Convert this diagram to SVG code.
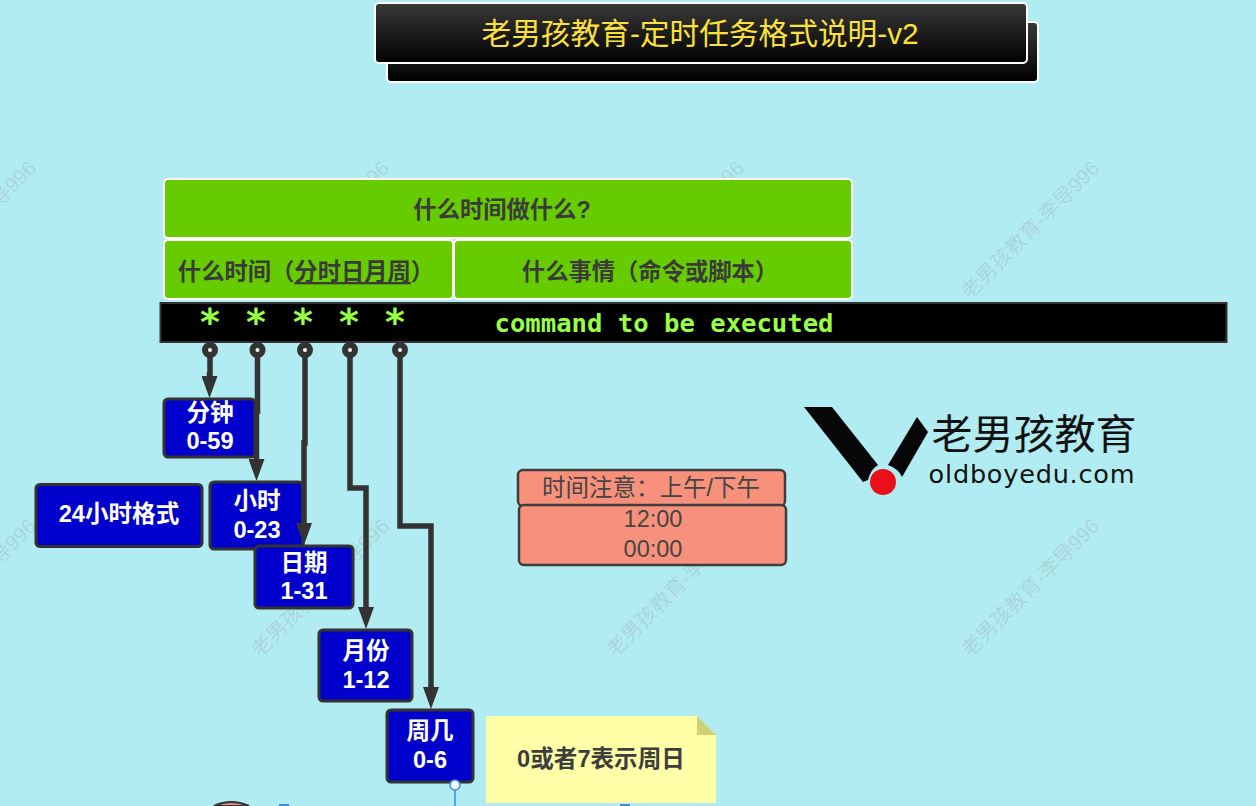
<svg xmlns="http://www.w3.org/2000/svg" width="1256" height="806" viewBox="0 0 1256 806">
<style>
text{font-family:"Liberation Sans","Noto Sans CJK SC",sans-serif;text-anchor:middle}
.wm{font-size:20.500px;fill:#9fb8bc;fill-opacity:.45;text-anchor:start}
.h{fill:#6c0;stroke:#fff;stroke-width:2}
.ht{font-size:23.300px;font-weight:700;fill:#3a3a3a}
.b{fill:#00c;stroke:#333;stroke-width:3}
.bt{font-size:23.600px;font-weight:700;fill:#fff}
.s{fill:#f8917b;stroke:#3d3d3d;stroke-width:2.500}
.st{font-size:23.500px;fill:#444}
.c{fill:none;stroke:#333;stroke-width:5.500}
.dot{fill:#fff;stroke:#333;stroke-width:6}
.mono{font-family:"DejaVu Sans Mono","Liberation Mono",monospace;font-weight:700;fill:#9f4}
</style>
<defs>
<linearGradient id="bk" x1="0" y1="0" x2="0" y2="1"><stop offset="0" stop-color="#3a3a3a"/><stop offset="1" stop-color="#000"/></linearGradient>
<marker id="ah" markerUnits="userSpaceOnUse" markerWidth="22" markerHeight="16" refX="14" refY="8" orient="auto" viewBox="0 0 22 16"><path d="M0 0L22 8L0 16Z" fill="#333"/></marker>
</defs>
<rect width="1256" height="806" fill="#b2ecf3"/>
<g id="watermarks">
<text class="wm" transform="translate(-93 300) rotate(-45)">老男孩教育-李导996</text>
<text class="wm" transform="translate(260 300) rotate(-45)">老男孩教育-李导996</text>
<text class="wm" transform="translate(615 300) rotate(-45)">老男孩教育-李导996</text>
<text class="wm" transform="translate(970 300) rotate(-45)">老男孩教育-李导996</text>
<text class="wm" transform="translate(-93 658) rotate(-45)">老男孩教育-李导996</text>
<text class="wm" transform="translate(260 658) rotate(-45)">老男孩教育-李导996</text>
<text class="wm" transform="translate(615 658) rotate(-45)">老男孩教育-李导996</text>
<text class="wm" transform="translate(970 658) rotate(-45)">老男孩教育-李导996</text>
</g>
<g id="title">
<rect x="387" y="22" width="651" height="60" rx="4" fill="url(#bk)" stroke="#fff" stroke-width="2"/>
<rect x="375" y="3" width="652" height="60" rx="4" fill="url(#bk)" stroke="#fff" stroke-width="2"/>
<text x="700" y="44" font-size="29.700" fill="#fde13a">老男孩教育-定时任务格式说明-v2</text>
</g>
<g id="header-top"><rect class="h" x="164" y="179" width="688" height="59" rx="4"/><text class="ht" x="502" y="218">什么时间做什么?</text></g>
<g id="header-when"><rect class="h" x="164" y="240" width="289" height="59" rx="4"/><text class="ht" x="306" y="280">什么时间（<tspan text-decoration="underline">分时日月周</tspan>）</text></g>
<g id="header-what"><rect class="h" x="454" y="240" width="398" height="59" rx="4"/><text class="ht" x="650" y="280">什么事情（命令或脚本）</text></g>
<g id="cmd-bar">
<rect x="160.500" y="303" width="1066" height="39" fill="#000" stroke="#333" stroke-width="2"/>
<text class="mono" x="210" y="335" font-size="38">*</text><text class="mono" x="256" y="335" font-size="38">*</text><text class="mono" x="303" y="335" font-size="38">*</text><text class="mono" x="349" y="335" font-size="38">*</text><text class="mono" x="395" y="335" font-size="38">*</text>
<text class="mono" x="664" y="332" font-size="25.600">command to be executed</text>
</g>
<g id="min"><rect class="b" x="164" y="399" width="91" height="58" rx="4"/><text class="bt" x="210" y="421">分钟</text><text class="bt" x="210" y="449">0-59</text></g>
<g id="fmt24"><rect class="b" x="36" y="484.500" width="166" height="62" rx="4"/><text class="bt" x="119" y="522">24小时格式</text></g>
<g id="hour"><rect class="b" x="210" y="482" width="93" height="67" rx="4"/><text class="bt" x="257" y="509">小时</text><text class="bt" x="257" y="538">0-23</text></g>
<g id="day"><rect class="b" x="255" y="546" width="98" height="62" rx="4"/><text class="bt" x="304" y="571">日期</text><text class="bt" x="304" y="599">1-31</text></g>
<g id="month"><rect class="b" x="319" y="630" width="93" height="71" rx="4"/><text class="bt" x="366" y="659">月份</text><text class="bt" x="366" y="688">1-12</text></g>
<g id="week"><rect class="b" x="387" y="710" width="86" height="72" rx="4"/><text class="bt" x="430" y="739">周几</text><text class="bt" x="430" y="768">0-6</text></g>
<g id="connectors">
<path class="c" marker-end="url(#ah)" d="M210 350V375H209.500V390"/>
<path class="c" marker-end="url(#ah)" d="M257.500 350V411H256.500V473"/>
<path class="c" marker-end="url(#ah)" d="M305 350V443H304V537"/>
<path class="c" marker-end="url(#ah)" d="M350 350V488H366V621"/>
<path class="c" marker-end="url(#ah)" d="M400 350V526H431V701"/>
<circle class="dot" cx="210" cy="350" r="5"/><circle class="dot" cx="257.500" cy="350" r="5"/><circle class="dot" cx="305" cy="350" r="5"/><circle class="dot" cx="350" cy="350" r="5"/><circle class="dot" cx="400" cy="350" r="5"/>
</g>
<g id="selection"><path d="M455 790V806" stroke="#2f8ff0" stroke-width="1.500"/><circle cx="455" cy="785" r="5" fill="#fff" stroke="#2f8ff0" stroke-width="1.500"/></g>
<g id="note">
<path d="M486 716H697L716 735V803H486Z" fill="#ffffa8"/><path d="M697 716L716 735H697Z" fill="#cfcf75"/>
<text x="601" y="767" font-size="23.600" font-weight="700" fill="#3d3d3d">0或者7表示周日</text>
</g>
<g id="time-note">
<rect class="s" x="518" y="470" width="267" height="36" rx="5"/><text class="st" x="651" y="496">时间注意：上午/下午</text>
<rect class="s" x="519" y="505" width="267" height="60" rx="5"/><text class="st" x="653" y="527">12:00</text><text class="st" x="653" y="557">00:00</text>
</g>
<g id="logo">
<path d="M804 407H832L878 465Q870 470 868 480L863 482Z" fill="#070707"/>
<path d="M917 417L928 432L902 477Q899 469 888 465Z" fill="#070707"/>
<circle cx="883" cy="482" r="13" fill="#e8111a"/>
<text x="1034" y="449" font-size="41" fill="#111" style="font-family:'Noto Sans CJK SC',sans-serif">老男孩教育</text>
<text x="1032" y="483" font-size="25.500" fill="#111" style="letter-spacing:.8px;font-family:'DejaVu Sans',sans-serif">oldboyedu.com</text>
</g>
<g id="cut-off-shapes">
<path d="M214 806Q231 798 249 806Z" fill="#e8947e" stroke="#333" stroke-width="2"/>
<rect x="279" y="804" width="10" height="2" fill="#3a8fe0"/>
<rect x="620" y="804" width="10" height="2" fill="#3a8fe0"/>
</g>
</svg>
